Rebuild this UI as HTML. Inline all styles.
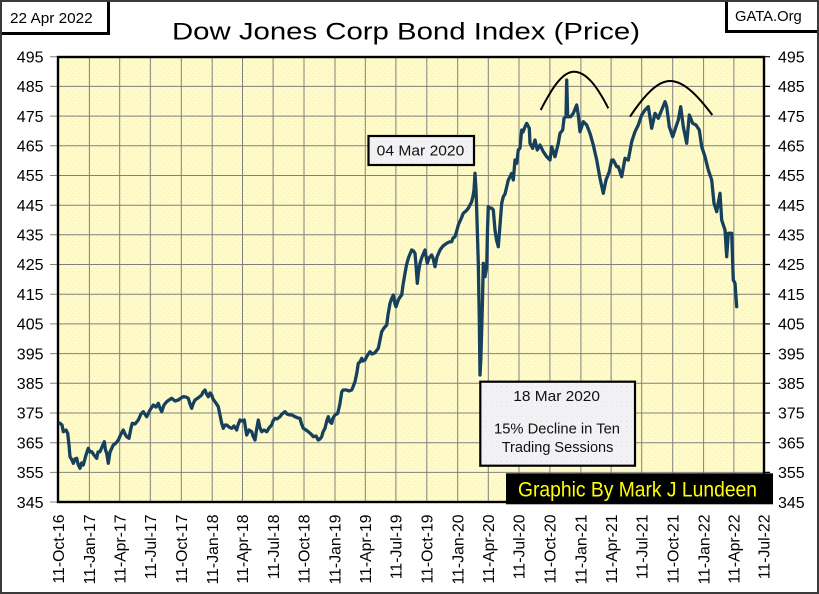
<!DOCTYPE html>
<html><head><meta charset="utf-8"><style>
html,body{margin:0;padding:0;background:#fff;}
svg{display:block;}
</style></head><body>
<svg width="819" height="594" viewBox="0 0 819 594" xmlns="http://www.w3.org/2000/svg">
<defs>
<pattern id="dots" width="6" height="6" patternUnits="userSpaceOnUse">
<rect width="6" height="6" fill="#FFFBC9"/>
<rect x="1" y="1" width="1" height="1" fill="#F1EBB8"/>
<rect x="4" y="4" width="1" height="1" fill="#F4EEBC"/>
</pattern>
<pattern id="gdots" width="5" height="5" patternUnits="userSpaceOnUse">
<rect width="5" height="5" fill="#F2F2F4"/>
<rect x="1" y="1" width="1" height="1" fill="#E4E4E8"/>
</pattern>
</defs>
<rect x="0" y="0" width="819" height="594" fill="#fff"/>
<rect x="58" y="57" width="706" height="445" fill="url(#dots)"/>
<g stroke="#808080" stroke-width="1" fill="none">
<path d="M50,86.4H764M50,116.1H764M50,145.8H764M50,175.5H764M50,205.2H764M50,234.8H764M50,264.5H764M50,294.2H764M50,323.9H764M50,353.6H764M50,383.3H764M50,413H764M50,442.7H764M50,472.4H764M50,56.7H58M50,502H58"/>
<path d="M89.4,57V502M119.7,57V502M150.3,57V502M181.3,57V502M212.2,57V502M242.5,57V502M273.1,57V502M304,57V502M335,57V502M365.3,57V502M395.9,57V502M426.8,57V502M457.7,57V502M488.3,57V502M519,57V502M549.9,57V502M580.9,57V502M611.1,57V502M641.7,57V502M672.7,57V502M703.6,57V502M733.9,57V502"/>
</g>
<g stroke="#000" stroke-width="1.2">
<path d="M764,56.7H770M764,86.4H770M764,116.1H770M764,145.8H770M764,175.5H770M764,205.2H770M764,234.8H770M764,264.5H770M764,294.2H770M764,323.9H770M764,353.6H770M764,383.3H770M764,413H770M764,442.7H770M764,472.4H770M764,502H770"/>
</g>
<rect x="58" y="57" width="706" height="445" fill="none" stroke="#000" stroke-width="2.4"/>

<g stroke="#000" stroke-width="2" fill="none">
<path d="M540.7,110 C553,86 563,71.7 574,71.7 C586,71.7 597,86 608.3,108.3"/>
<path d="M630,116.7 C645,94 658,81 670,81 C684,81 698,96 712.3,115"/>
</g>

<path fill="none" stroke="#16405C" stroke-width="3.3" stroke-linejoin="round" stroke-linecap="round" d="M60,423.3 L62,425 63.3,431.7 66,430 67.7,433.3 69,445 70,456.7 72,460 73.3,463.3 75,459 76.7,458.3 78,464 80,468.3 81.5,463 83.3,465 86,455 88.3,448.3 90,452 91.7,451.7 94,455 96.7,458.3 98,452 100,451.7 102,447 104.3,441.7 105.5,450 106.7,453.3 108.3,463.3 110,452 113.3,445 116,443 118.3,440 121,434 123.3,430 125,434 126.7,436.7 129,438.3 131,428 132.3,423.3 135,424 138.3,420 141,414 143.3,411.7 146.7,416.7 150,410 153.3,405 156,407 158.3,403.3 160,408 161.7,411.7 164,405 166.7,401.7 169,400 171.7,398.3 175,401 178.3,400 181,398 183.3,396.7 186,397 188.3,398.3 190,404 191.7,408.3 193,404 195,400 198,398 201.7,395 203,392 205,390 206.5,394 208.3,396.7 210,393 211.7,395 213,399 215,401.7 218.3,406.7 220,415 221.7,423.3 223.3,428.3 225,425 226.7,425 229,427 231.7,428.3 234,426 236.7,430 238,425 240,420 242,421 244.3,420 245.5,428 246.7,435 249,430 251.7,431.7 253,436 255,440 256.5,430 258.3,420 260,428 261.7,431.7 264,430 266.7,431.7 269,428 271.7,425 273,421 275,418.3 277,419 280,416.7 282,414 285,411.7 287,414 290,415 292,415 295,416.7 298,418 300,418.3 301.5,424 303.3,428.3 306,430 308.3,431.7 311,434 313.3,436.7 316,436 318.3,440 320,439 321.7,436.7 323,432 325,428.3 327,420 328.3,416.7 330,422 331.7,423.3 333,418 335,415 337.7,413.3 339,408 340,403.3 341.7,392 343,390 346.7,390 349,391 351.7,390 353,387 355,381.7 357,372 358.3,363.3 360,362 361.7,358.3 363,361 365,360 367,356 370,351.7 372,354 375,352.7 377,350 378.3,348.3 380,340 381.7,331.7 384,328 386.7,325 388,315 390,303.3 391.5,299 393.3,295 395,304 396,306.7 398.3,300 400,297 401.7,295 403,285 405,273.3 406.5,265 408.3,258.3 410,254 411.7,250 413.5,251 415,253.3 416,265 417.3,283.3 418.5,272 420,263.3 422,257 425,250 426,256 427.3,263.3 429,258 431.7,255 433,258 435,266.7 437,257 440,250 443,246 446.7,243.3 449,242 451.7,241.7 453,238 455,236.7 457,230 458.3,225 461,219 463.3,213.3 466,211 468.3,208.3 470,205 471.7,201.7 473,196 474,190 475,173.3 476,190 476.7,210 478.3,263.3 479.3,320 480,375 480.8,360 481.7,330 482.5,300 483.3,263.3 485,276.7 486.7,266.7 487.5,230 488.3,206.7 490,208 491.7,208.3 493.3,210 495,230 496.5,240 498.3,246.7 500,225 501.7,203.3 503.3,196.7 505,194 508.3,180 510,176.7 511.7,173.3 513.3,180 515,160 516.7,163.3 518.3,150 520,148 521.7,130 523,132 525,126.7 526.7,123.3 529.3,128.3 530,143.3 532.7,148.3 535,140 537.3,150 540,145 543.3,151.7 546.7,156.7 550,160 551.7,146.7 555,156.7 558.3,143.3 560,133.3 562.7,130 564,118.3 566,116.7 566.7,80 567.7,116.7 570.7,116.7 573.3,113.3 576.7,105 578.3,115 580,131.7 583.3,121.7 586.7,125 590,133.3 593.3,145 596.7,160 600,178.3 603.3,193.3 606,180 609.3,171.7 611.7,160 613.3,160 615,163.3 616.7,166.7 618.3,166.7 621.7,176.7 625,158.3 628.3,160 631.7,141.7 635,131.7 638.3,125 641.7,115 645,110 648.3,106.7 651.7,128.3 655,113.3 658.3,118.3 661.7,110 665,101.7 666.7,106.7 669.3,126.7 672.7,136.7 676,126.7 678.3,120 680.7,106.7 683.3,126.7 686.7,143.3 689.3,115 692.7,123.3 696,125 699.3,130 701.7,146.7 705,156.7 708.3,170 711.7,180 714,203.3 716.7,211.7 720,193.3 721.7,220 725,230 726.7,256.7 728.3,233.3 731.7,233.3 733.3,280 735,283.3 736.7,306.7"/>

<rect x="368.5" y="136" width="105.5" height="29" fill="url(#gdots)" stroke="#000" stroke-width="2.2"/>
<text x="376.7" y="155.5" font-family="Liberation Sans, sans-serif" font-size="15" fill="#111" textLength="87.6" lengthAdjust="spacingAndGlyphs">04 Mar 2020</text>

<rect x="480.3" y="381.7" width="154.7" height="84" fill="url(#gdots)" stroke="#000" stroke-width="2.2"/>
<g font-family="Liberation Sans, sans-serif" font-size="15" fill="#111">
<text x="513.3" y="400.8" textLength="86.7" lengthAdjust="spacingAndGlyphs">18 Mar 2020</text>
<text x="494" y="433.4" textLength="126" lengthAdjust="spacingAndGlyphs">15% Decline in Ten</text>
<text x="501.7" y="452" textLength="111.7" lengthAdjust="spacingAndGlyphs">Trading Sessions</text>
</g>

<rect x="506" y="473.3" width="267" height="31" fill="#000"/>
<text x="518" y="496.5" font-family="Liberation Sans, sans-serif" font-size="21" fill="#FFFF00" textLength="239" lengthAdjust="spacingAndGlyphs">Graphic By Mark J Lundeen</text>

<g font-family="Liberation Sans, sans-serif" font-size="16" fill="#000" text-anchor="end">
<text x="43.5" y="62.4">495</text>
<text x="43.5" y="92.1">485</text>
<text x="43.5" y="121.8">475</text>
<text x="43.5" y="151.5">465</text>
<text x="43.5" y="181.2">455</text>
<text x="43.5" y="210.9">445</text>
<text x="43.5" y="240.5">435</text>
<text x="43.5" y="270.2">425</text>
<text x="43.5" y="299.9">415</text>
<text x="43.5" y="329.6">405</text>
<text x="43.5" y="359.3">395</text>
<text x="43.5" y="389">385</text>
<text x="43.5" y="418.7">375</text>
<text x="43.5" y="448.4">365</text>
<text x="43.5" y="478.1">355</text>
<text x="43.5" y="507.8">345</text>
</g>
<g font-family="Liberation Sans, sans-serif" font-size="16" fill="#000">
<text x="778" y="62.4">495</text>
<text x="778" y="92.1">485</text>
<text x="778" y="121.8">475</text>
<text x="778" y="151.5">465</text>
<text x="778" y="181.2">455</text>
<text x="778" y="210.9">445</text>
<text x="778" y="240.5">435</text>
<text x="778" y="270.2">425</text>
<text x="778" y="299.9">415</text>
<text x="778" y="329.6">405</text>
<text x="778" y="359.3">395</text>
<text x="778" y="389">385</text>
<text x="778" y="418.7">375</text>
<text x="778" y="448.4">365</text>
<text x="778" y="478.1">355</text>
<text x="778" y="507.8">345</text>
</g>

<g font-family="Liberation Sans, sans-serif" font-size="15.8" fill="#000" text-anchor="end">
<text transform="translate(64.2,514.5) rotate(-90)">11-Oct-16</text>
<text transform="translate(95.1,514.5) rotate(-90)">11-Jan-17</text>
<text transform="translate(125.4,514.5) rotate(-90)">11-Apr-17</text>
<text transform="translate(156,514.5) rotate(-90)">11-Jul-17</text>
<text transform="translate(187,514.5) rotate(-90)">11-Oct-17</text>
<text transform="translate(217.9,514.5) rotate(-90)">11-Jan-18</text>
<text transform="translate(248.2,514.5) rotate(-90)">11-Apr-18</text>
<text transform="translate(278.8,514.5) rotate(-90)">11-Jul-18</text>
<text transform="translate(309.7,514.5) rotate(-90)">11-Oct-18</text>
<text transform="translate(340.7,514.5) rotate(-90)">11-Jan-19</text>
<text transform="translate(371,514.5) rotate(-90)">11-Apr-19</text>
<text transform="translate(401.6,514.5) rotate(-90)">11-Jul-19</text>
<text transform="translate(432.5,514.5) rotate(-90)">11-Oct-19</text>
<text transform="translate(463.4,514.5) rotate(-90)">11-Jan-20</text>
<text transform="translate(494,514.5) rotate(-90)">11-Apr-20</text>
<text transform="translate(524.7,514.5) rotate(-90)">11-Jul-20</text>
<text transform="translate(555.6,514.5) rotate(-90)">11-Oct-20</text>
<text transform="translate(586.6,514.5) rotate(-90)">11-Jan-21</text>
<text transform="translate(616.8,514.5) rotate(-90)">11-Apr-21</text>
<text transform="translate(647.4,514.5) rotate(-90)">11-Jul-21</text>
<text transform="translate(678.4,514.5) rotate(-90)">11-Oct-21</text>
<text transform="translate(709.3,514.5) rotate(-90)">11-Jan-22</text>
<text transform="translate(739.6,514.5) rotate(-90)">11-Apr-22</text>
<text transform="translate(769.7,514.5) rotate(-90)">11-Jul-22</text>
</g>

<text x="172" y="39.5" font-family="Liberation Sans, sans-serif" font-size="24" fill="#000" textLength="468" lengthAdjust="spacingAndGlyphs">Dow Jones Corp Bond Index (Price)</text>

<rect x="-2" y="-2" width="110.5" height="35.5" fill="#fff" stroke="#000" stroke-width="3"/>
<text x="10" y="23" font-family="Liberation Sans, sans-serif" font-size="15" fill="#000" textLength="82.7" lengthAdjust="spacingAndGlyphs">22 Apr 2022</text>

<rect x="726.5" y="-2" width="96" height="33.5" fill="#fff" stroke="#000" stroke-width="3"/>
<text x="735" y="21" font-family="Liberation Sans, sans-serif" font-size="15" fill="#000" textLength="66.7" lengthAdjust="spacingAndGlyphs">GATA.Org</text>

<rect x="1" y="1" width="817" height="592" fill="none" stroke="#3a3a3a" stroke-width="2"/>
</svg>
</body></html>
